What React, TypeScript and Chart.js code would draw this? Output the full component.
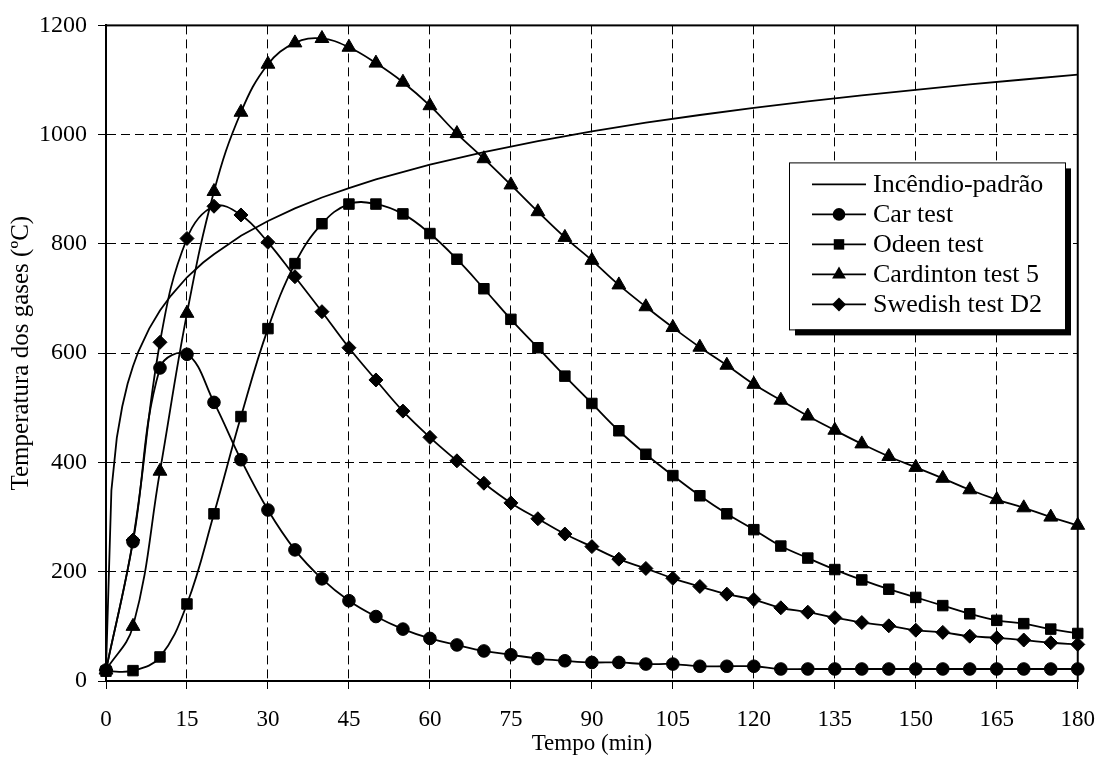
import React, { useEffect, useRef } from 'react';
import { Chart, registerables } from 'chart.js';

Chart.register(...registerables);

// ---- data ----
const testTimes = [0, 5, 10, 15, 20, 25, 30, 35, 40, 45, 50, 55, 60, 65, 70, 75, 80, 85, 90, 95, 100, 105, 110, 115, 120, 125, 130, 135, 140, 145, 150, 155, 160, 165, 170, 175, 180];
const carTest = [20, 255, 573, 598, 510, 405, 313, 240, 187, 147, 118, 95, 78, 66, 55, 48, 41, 37, 34, 34, 31, 31, 27, 27, 27, 22, 22, 22, 22, 22, 22, 22, 22, 22, 22, 22, 22];
const odeenTest = [18, 19, 44, 141, 306, 484, 645, 764, 837, 873, 873, 855, 819, 772, 718, 662, 610, 558, 508, 458, 415, 376, 339, 306, 277, 247, 225, 204, 185, 168, 153, 138, 123, 111, 105, 95, 87];
const cardintonTest = [20, 100, 384, 673, 896, 1041, 1129, 1168, 1176, 1160, 1131, 1096, 1053, 1002, 956, 908, 859, 812, 770, 725, 685, 647, 611, 578, 543, 514, 485, 459, 434, 411, 391, 371, 350, 332, 317, 300, 285];
const swedishTest = [20, 258, 620, 810, 869, 853, 803, 740, 676, 610, 551, 494, 446, 403, 362, 326, 297, 269, 246, 223, 206, 188, 173, 159, 149, 134, 126, 116, 107, 101, 93, 89, 82, 79, 75, 70, 67];
const standardTimes = [0, 1, 2, 3, 4, 5, 6, 8, 10, 12, 15, 18, 20, 25, 30, 35, 40, 45, 50, 60, 70, 80, 90, 100, 110, 120, 130, 140, 150, 160, 170, 180];
const standardFire = [20, 349, 445, 502, 544, 576, 603, 645, 678, 705, 739, 766, 781, 815, 842, 865, 885, 902, 918, 945, 968, 988, 1006, 1022, 1036, 1049, 1061, 1072, 1082, 1092, 1101, 1110];
const xTickValues = [0, 15, 30, 45, 60, 75, 90, 105, 120, 135, 150, 165, 180];
const yTickValues = [0, 200, 400, 600, 800, 1000, 1200];
const seriesNames = ['Incêndio-padrão', 'Car test', 'Odeen test', 'Cardinton test 5', 'Swedish test D2'];
const xTitle = 'Tempo (min)';
const yTitle = 'Temperatura dos gases (ºC)';

const SERIF = "'Liberation Serif', 'Times New Roman', serif";

function toPoints(xs: number[], ys: number[]) {
  return xs.map((x, i) => ({ x, y: ys[i] }));
}

function drawMarker(ctx: CanvasRenderingContext2D, style: string | false, x: number, y: number, r: number) {
  if (!style) return;
  ctx.beginPath();
  if (style === 'circle') {
    ctx.arc(x, y, r, 0, Math.PI * 2);
  } else if (style === 'rect') {
    const s = Math.SQRT1_2 * r;
    ctx.rect(x - s, y - s, 2 * s, 2 * s);
  } else if (style === 'triangle') {
    for (let k = 0; k < 3; k++) {
      const a = (k * 2 * Math.PI) / 3;
      const px = x + Math.sin(a) * r;
      const py = y - Math.cos(a) * r;
      if (k === 0) ctx.moveTo(px, py);
      else ctx.lineTo(px, py);
    }
    ctx.closePath();
  } else if (style === 'rectRot') {
    ctx.moveTo(x, y - r);
    ctx.lineTo(x + r, y);
    ctx.lineTo(x, y + r);
    ctx.lineTo(x - r, y);
    ctx.closePath();
  }
  ctx.fill();
}

const frameAndLegend = {
  id: 'frameAndLegend',
  afterDatasetsDraw(chart: any) {
    const ctx: CanvasRenderingContext2D = chart.ctx;
    const a = chart.chartArea;
    ctx.save();
    ctx.setLineDash([]);
    // plot frame
    ctx.strokeStyle = '#000';
    ctx.lineWidth = 2;
    ctx.strokeRect(a.left, a.top, a.right - a.left, a.bottom - a.top);

    // legend box
    const L = a.left + 683;
    const T = a.top + 137;
    const W = 276;
    const H = 167;
    ctx.fillStyle = '#000';
    ctx.fillRect(L + 6, T + 6, W, H);
    ctx.fillStyle = '#fff';
    ctx.fillRect(L, T, W, H);
    ctx.strokeStyle = '#000';
    ctx.lineWidth = 1;
    ctx.strokeRect(L + 0.5, T + 0.5, W, H);

    ctx.font = `26px ${SERIF}`;
    ctx.textBaseline = 'middle';
    ctx.textAlign = 'left';
    chart.data.datasets.forEach((ds: any, i: number) => {
      const cy = T + 22 + i * 30;
      ctx.strokeStyle = '#000';
      ctx.lineWidth = 1.8;
      ctx.beginPath();
      ctx.moveTo(L + 23, cy);
      ctx.lineTo(L + 77, cy);
      ctx.stroke();
      ctx.fillStyle = '#000';
      drawMarker(ctx, ds.pointRadius > 0 ? ds.pointStyle : false, L + 50, cy, ds.pointRadius);
      ctx.fillStyle = '#000';
      ctx.fillText(ds.label, L + 84, cy + 1);
    });
    ctx.restore();
  },
};

const gridOpts = {
  color: '#000',
  lineWidth: 1,
  tickBorderDash: [],
  tickLength: 8,
  tickColor: '#000',
  tickWidth: 1,
  drawTicks: true,
};

export default function App() {
  const ref = useRef<HTMLCanvasElement>(null);

  useEffect(() => {
    if (!ref.current) return;
    const common = {
      borderColor: '#000',
      backgroundColor: '#000',
      pointBackgroundColor: '#000',
      pointBorderColor: '#000',
      pointBorderWidth: 1,
      borderWidth: 1.8,
      tension: 0.4,
      clip: false as any,
    };
    const chart = new Chart(ref.current, {
      type: 'line',
      data: {
        datasets: [
          { ...common, label: seriesNames[0], data: toPoints(standardTimes, standardFire), pointRadius: 0, pointStyle: false as any, tension: 0 },
          { ...common, label: seriesNames[1], data: toPoints(testTimes, carTest), pointRadius: 6.3, pointStyle: 'circle' },
          { ...common, label: seriesNames[2], data: toPoints(testTimes, odeenTest), pointRadius: 7.4, pointStyle: 'rect' },
          { ...common, label: seriesNames[3], data: toPoints(testTimes, cardintonTest), pointRadius: 8, pointStyle: 'triangle' },
          { ...common, label: seriesNames[4], data: toPoints(testTimes, swedishTest), pointRadius: 7, pointStyle: 'rectRot' },
        ],
      },
      options: {
        responsive: false,
        animation: false,
        events: [],
        layout: { padding: { top: 21, right: 21, left: 0, bottom: 0 } },
        plugins: {
          legend: { display: false },
          tooltip: { enabled: false },
          title: { display: false },
        },
        scales: {
          x: {
            type: 'linear',
            min: 0,
            max: 180,
            afterBuildTicks: (scale: any) => {
              scale.ticks = xTickValues.map((v) => ({ value: v }));
            },
            afterFit: (scale: any) => {
              scale.height = 81;
            },
            ticks: {
              color: '#000',
              font: { family: SERIF, size: 23 },
              padding: 17,
              maxRotation: 0,
              autoSkip: false,
              callback: (v: any) => String(v),
            },
            grid: gridOpts,
            border: { display: true, color: '#000', width: 2, dash: [9, 5] },
            title: {
              display: true,
              text: xTitle,
              color: '#000',
              font: { family: SERIF, size: 23 },
              padding: { top: 0, bottom: 4 },
            },
          },
          y: {
            type: 'linear',
            min: 0,
            max: 1200,
            afterBuildTicks: (scale: any) => {
              scale.ticks = yTickValues.map((v) => ({ value: v }));
            },
            afterFit: (scale: any) => {
              scale.width = 106;
            },
            ticks: {
              color: '#000',
              font: { family: SERIF, size: 24 },
              padding: 11,
              autoSkip: false,
              callback: (v: any) => String(v),
            },
            grid: gridOpts,
            border: { display: true, color: '#000', width: 2, dash: [9, 5] },
            title: {
              display: true,
              text: yTitle,
              color: '#000',
              font: { family: SERIF, size: 25 },
              padding: { top: 6, bottom: 0 },
            },
          },
        },
      },
      plugins: [frameAndLegend],
    });
    return () => chart.destroy();
  }, []);

  return (
    <div style={{ position: 'absolute', left: 0, top: 0, width: 1112, height: 762, background: '#fff' }}>
      <canvas ref={ref} width={1112} height={762} style={{ display: 'block', width: 1112, height: 762 }} />
    </div>
  );
}
